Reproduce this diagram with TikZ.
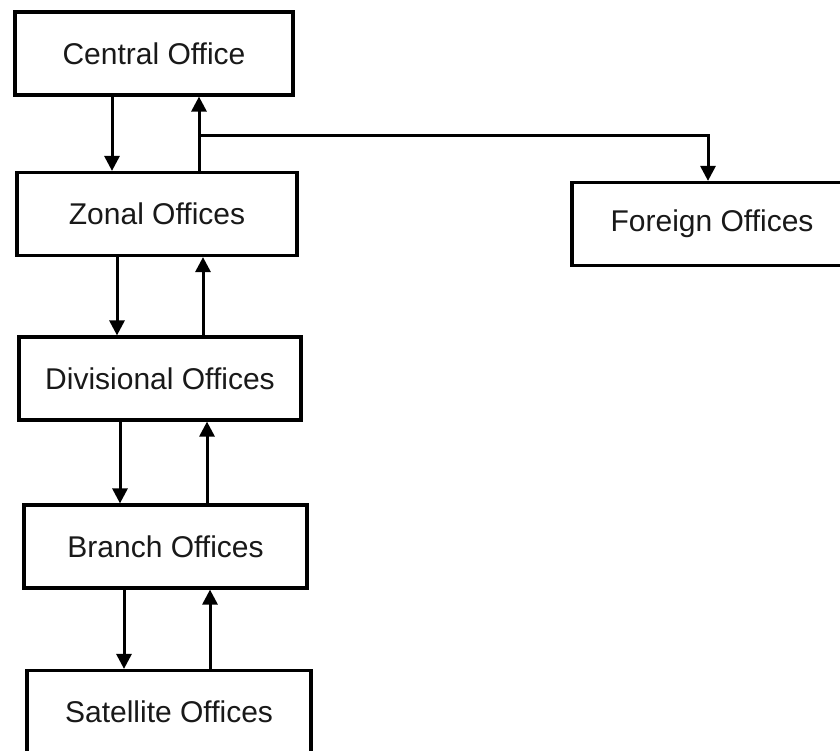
\documentclass[tikz,border=0pt]{standalone}
\usepackage{fontspec}
\setmainfont{Liberation Sans}
\usetikzlibrary{arrows.meta}
\begin{document}
\begin{tikzpicture}[x=1pt,y=-1pt,
  office/.style={draw=black, line width=3.2pt, fill=white, inner sep=0pt,
    minimum height=83pt, text=black!90,
    font=\fontsize{30}{36}\selectfont},
  arr/.style={draw=black, line width=3pt,
    -{Triangle[length=15pt,width=15pt]}}]
  \useasboundingbox (0,0) rectangle (840,751);
  \clip (0,0) rectangle (840,751);
  \fill[white] (0,0) rectangle (840,751);

  % office boxes
  \node[office, minimum width=278pt] (central)   at (154,53.5)  {Central Office};
  \node[office, minimum width=280pt] (zonal)     at (157,214)   {Zonal Offices};
  \node[office, minimum width=282pt] (division)  at (160,378.5) {Divisional Offices};
  \node[office, minimum width=283pt] (branch)    at (165.5,546.5) {Branch Offices};
  \node[office, minimum width=284pt] (satellite) at (169,712)   {Satellite Offices};
  \node[office, minimum width=280pt] (foreign)   at (712,224)   {Foreign Offices};

  % downward flow
  \draw[arr] ([xshift=-42pt]central.south) -- ([xshift=-42pt]central.south |- zonal.north);
  \draw[arr] ([xshift=-40pt]zonal.south) -- ([xshift=-40pt]zonal.south |- division.north);
  \draw[arr] ([xshift=-40pt]division.south) -- ([xshift=-40pt]division.south |- branch.north);
  \draw[arr] ([xshift=-41.5pt]branch.south) -- ([xshift=-41.5pt]branch.south |- satellite.north);

  % upward flow
  \draw[arr] ([xshift=45pt]central.south |- zonal.north) -- ([xshift=45pt]central.south);
  \draw[arr] ([xshift=46pt]zonal.south |- division.north) -- ([xshift=46pt]zonal.south);
  \draw[arr] ([xshift=47pt]division.south |- branch.north) -- ([xshift=47pt]division.south);
  \draw[arr] ([xshift=44.5pt]branch.south |- satellite.north) -- ([xshift=44.5pt]branch.south);

  % branch line to the foreign offices
  \coordinate (split) at (199,136);
  \draw[arr] (split) -| ([xshift=-4pt]foreign.north);
\end{tikzpicture}
\end{document}
